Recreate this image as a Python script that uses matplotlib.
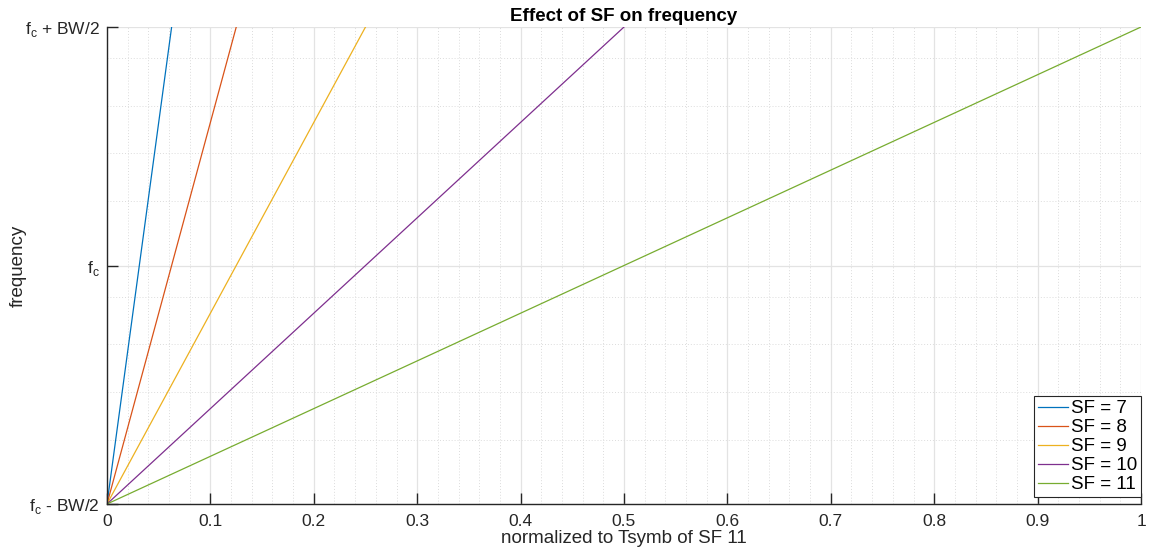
import matplotlib.pyplot as plt
from matplotlib.ticker import FixedLocator, MultipleLocator

plt.rcParams['font.family'] = ['Liberation Sans', 'DejaVu Sans']

# spreading factors and symbol duration relative to SF 11
sf = [7, 8, 9, 10, 11]
t_end = [0.0625, 0.125, 0.25, 0.5, 1.0]
colores = ['#0072BD', '#D95319', '#EDB120', '#7E2F8E', '#77AC30']

# eje de frecuencia: 0 = fc - BW/2, 1 = fc, 2 = fc + BW/2
y_ticks = [0, 1, 2]
y_labels = [r'f$_\mathregular{c}$ - BW/2', r'f$_\mathregular{c}$', r'f$_\mathregular{c}$ + BW/2']
y_minor = [0.27, 0.47, 0.67, 0.87, 1.27, 1.47, 1.67, 1.87]
x_ticks = [0, 0.1, 0.2, 0.3, 0.4, 0.5, 0.6, 0.7, 0.8, 0.9, 1]
x_labels = ['0', '0.1', '0.2', '0.3', '0.4', '0.5', '0.6', '0.7', '0.8', '0.9', '1']

fig = plt.figure(figsize=(11.49, 5.5), dpi=100)
ax = fig.add_axes([107/1149, 46/550, 1034/1149, 477/550])

for s, t, c in zip(sf, t_end, colores):
    ax.plot([0, t], [0, 2], color=c, lw=0.9, label='SF = %d' % s)

ax.set_xlim(0, 1)
ax.set_ylim(0, 2)
ax.set_xticks(x_ticks)
ax.set_xticklabels(x_labels)
ax.xaxis.set_minor_locator(MultipleLocator(0.02))
ax.set_yticks(y_ticks)
ax.set_yticklabels(y_labels)
ax.yaxis.set_minor_locator(FixedLocator(y_minor))

ax.grid(True, which='major', color='#e3e3e3', lw=0.9, ls='-')
ax.grid(True, which='minor', color='#dcdcdc', lw=0.7, ls=(0, (1, 2)))
ax.set_axisbelow(True)

ax.tick_params(which='major', direction='in', length=8, width=1, color='#262626',
               labelsize=12.5, labelcolor='#262626', pad=6)
ax.tick_params(which='minor', length=0)
ax.tick_params(axis='x', top=False, pad=7)
ax.tick_params(axis='y', right=False, pad=5)

for side in ['top', 'right']:
    ax.spines[side].set_visible(False)
for side in ['left', 'bottom']:
    ax.spines[side].set_color('#262626')
    ax.spines[side].set_linewidth(1)

ax.set_xlabel('normalized to Tsymb of SF 11', fontsize=13.5, color='#262626', labelpad=1)
ax.set_ylabel('frequency', fontsize=13.5, color='#262626', va='center')
ax.yaxis.set_label_coords(-0.0862, 0.5)
ax.set_title('Effect of SF on frequency', fontsize=13.5, fontweight='bold', pad=4)

leg = ax.legend(loc='lower right', bbox_to_anchor=(1.0, 0.015), fontsize=13.5,
                fancybox=False, framealpha=1, edgecolor='#262626',
                handlelength=1.6, handletextpad=0.15, borderpad=0.2,
                labelspacing=0.1, borderaxespad=0)
leg.get_frame().set_linewidth(0.8)

fig.savefig('out.png', dpi=100)
